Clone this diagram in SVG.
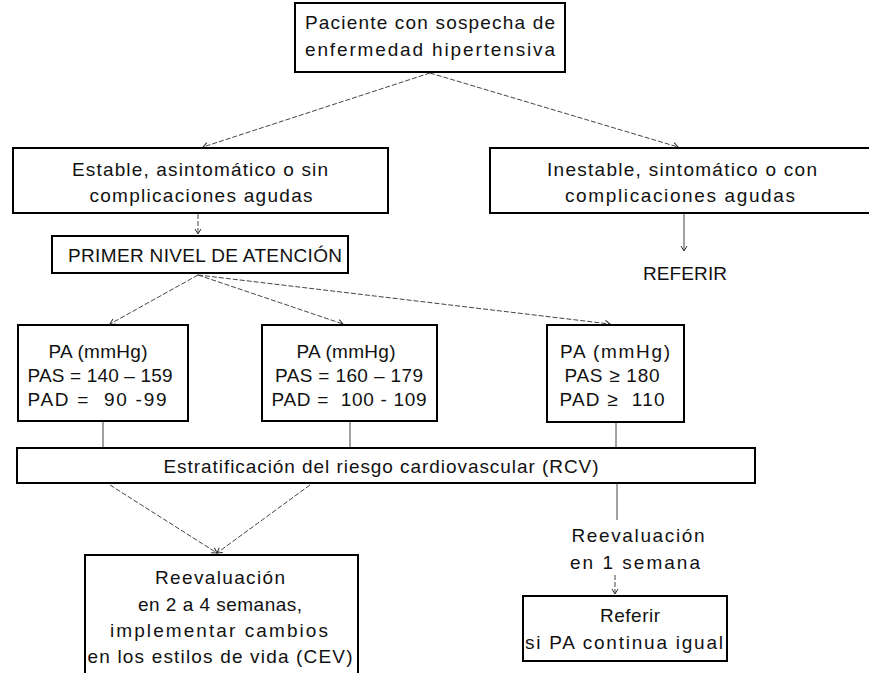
<svg xmlns="http://www.w3.org/2000/svg" width="869" height="673" viewBox="0 0 869 673">
<defs>
<marker id="ah" markerWidth="8" markerHeight="8" refX="6" refY="4" orient="auto" markerUnits="userSpaceOnUse">
<path d="M1,1 L6,4 L1,7" fill="none" stroke="#333" stroke-width="1"/>
</marker>
<style>
.box{fill:#fff;stroke:#000;stroke-width:2}
.t{font-family:"Liberation Sans",Arial,sans-serif;font-size:19px;fill:#111;text-anchor:middle}
.c{fill:none;stroke:#444;stroke-width:1}
.d{stroke-dasharray:5 2}
</style>
</defs>
<rect width="869" height="673" fill="#fff"/>
<g id="connectors">
<line class="c d" x1="430" y1="73" x2="203" y2="147" marker-end="url(#ah)"/>
<line class="c d" x1="430" y1="73" x2="678" y2="147" marker-end="url(#ah)"/>
<line class="c d" x1="198" y1="214" x2="198" y2="234" marker-end="url(#ah)"/>
<line class="c" x1="684" y1="214" x2="684" y2="251" marker-end="url(#ah)"/>
<line class="c d" x1="198" y1="275" x2="110" y2="324" marker-end="url(#ah)"/>
<line class="c d" x1="198" y1="275" x2="343" y2="324" marker-end="url(#ah)"/>
<line class="c d" x1="198" y1="275" x2="610" y2="324" marker-end="url(#ah)"/>
<line class="c" x1="103" y1="421" x2="103" y2="448"/>
<line class="c" x1="350" y1="421" x2="350" y2="448"/>
<line class="c" x1="616" y1="423" x2="616" y2="448"/>
<line class="c d" x1="110" y1="485" x2="217" y2="553" marker-end="url(#ah)"/>
<line class="c d" x1="310" y1="485" x2="217" y2="553" marker-end="url(#ah)"/>
<line class="c" x1="617" y1="484" x2="617" y2="520"/>
<line class="c d" x1="615" y1="575" x2="615" y2="594" marker-end="url(#ah)"/>
</g>
<g id="n1">
<rect class="box" x="295" y="3" width="270" height="69"/>
<text class="t" x="430" y="29" textLength="250" lengthAdjust="spacing">Paciente con sospecha de</text>
<text class="t" x="430" y="56" textLength="250" lengthAdjust="spacing">enfermedad hipertensiva</text>
</g>
<g id="n2">
<rect class="box" x="13" y="148" width="375" height="65"/>
<text class="t" x="200" y="176" textLength="256" lengthAdjust="spacing">Estable, asintomático o sin</text>
<text class="t" x="201" y="202" textLength="223" lengthAdjust="spacing">complicaciones agudas</text>
</g>
<g id="n3">
<rect class="box" x="490" y="148" width="390" height="65"/>
<text class="t" x="682" y="176" textLength="270" lengthAdjust="spacing">Inestable, sintomático o con</text>
<text class="t" x="680" y="202" textLength="230" lengthAdjust="spacing">complicaciones agudas</text>
</g>
<g id="n4">
<rect class="box" x="52" y="236" width="296" height="37"/>
<text class="t" x="205" y="262" textLength="274" lengthAdjust="spacing">PRIMER NIVEL DE ATENCIÓN</text>
</g>
<g id="n5">
<text class="t" x="685" y="280" textLength="84" lengthAdjust="spacing">REFERIR</text>
</g>
<g id="n6">
<rect class="box" x="18" y="325" width="170" height="96"/>
<text class="t" x="98" y="358" textLength="99" lengthAdjust="spacing">PA (mmHg)</text>
<text class="t" x="100" y="382" textLength="145" lengthAdjust="spacing">PAS = 140 – 159</text>
<text class="t" x="97" y="406" textLength="139" lengthAdjust="spacing" xml:space="preserve">PAD =  90 -99</text>
</g>
<g id="n7">
<rect class="box" x="262" y="325" width="175" height="96"/>
<text class="t" x="346" y="358" textLength="99" lengthAdjust="spacing">PA (mmHg)</text>
<text class="t" x="349" y="382" textLength="148" lengthAdjust="spacing">PAS = 160 – 179</text>
<text class="t" x="349" y="406" textLength="155" lengthAdjust="spacing" xml:space="preserve">PAD =  100 - 109</text>
</g>
<g id="n8">
<rect class="box" x="547" y="325" width="137" height="97"/>
<text class="t" x="615" y="358" textLength="110" lengthAdjust="spacing">PA (mmHg)</text>
<text class="t" x="612" y="382" textLength="95" lengthAdjust="spacing">PAS ≥ 180</text>
<text class="t" x="612" y="406" textLength="105" lengthAdjust="spacing" xml:space="preserve">PAD ≥  110</text>
</g>
<g id="n9">
<rect class="box" x="17" y="448" width="738" height="35"/>
<text class="t" x="381" y="473" textLength="435" lengthAdjust="spacing">Estratificación del riesgo cardiovascular (RCV)</text>
</g>
<g id="n10">
<rect class="box" x="85" y="555" width="273" height="125"/>
<text class="t" x="220" y="584" textLength="130" lengthAdjust="spacing">Reevaluación</text>
<text class="t" x="220" y="611" textLength="164" lengthAdjust="spacing">en 2 a 4 semanas,</text>
<text class="t" x="219" y="637" textLength="218" lengthAdjust="spacing">implementar cambios</text>
<text class="t" x="220" y="663" textLength="265" lengthAdjust="spacing">en los estilos de vida (CEV)</text>
</g>
<g id="n11">
<text class="t" x="638" y="542" textLength="133" lengthAdjust="spacing">Reevaluación</text>
<text class="t" x="635" y="569" textLength="130" lengthAdjust="spacing">en 1 semana</text>
</g>
<g id="n12">
<rect class="box" x="523" y="596" width="204" height="65"/>
<text class="t" x="630" y="622" textLength="60" lengthAdjust="spacing">Referir</text>
<text class="t" x="624" y="649" textLength="198" lengthAdjust="spacing">si PA continua igual</text>
</g>
</svg>
